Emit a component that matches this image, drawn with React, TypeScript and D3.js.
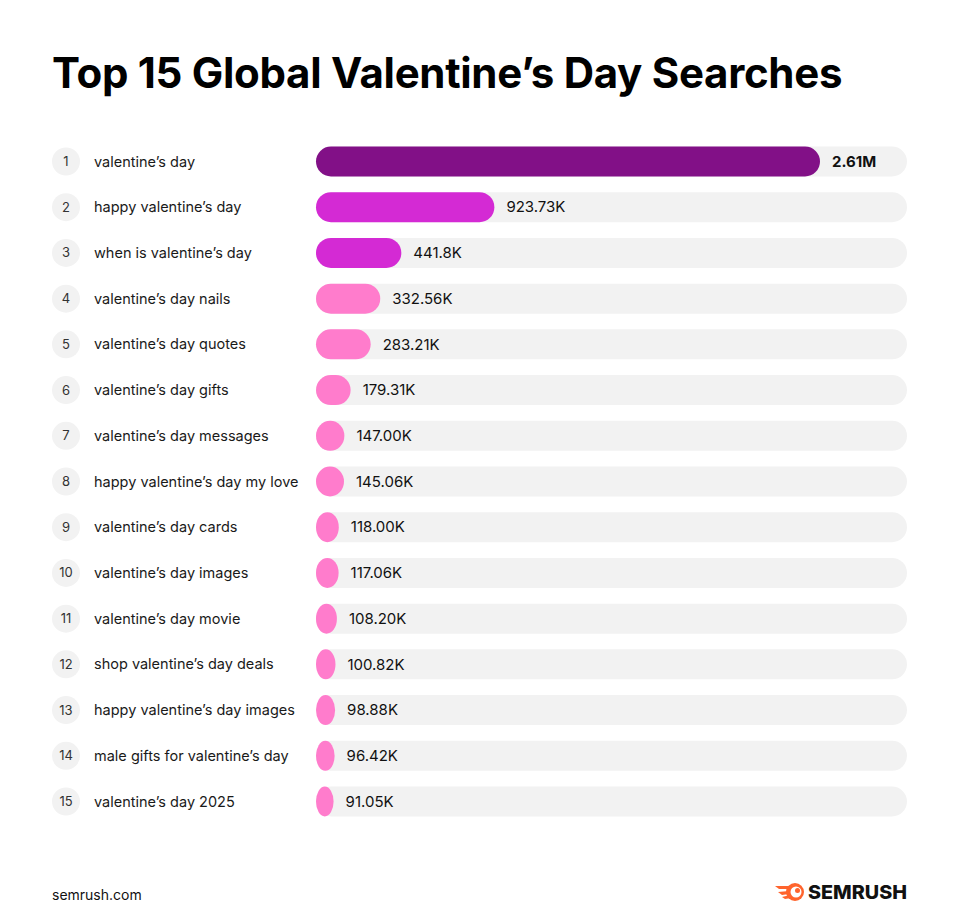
import React from "react";
import * as d3 from "d3";

const keywords = [
  "valentine’s day",
  "happy valentine’s day",
  "when is valentine’s day",
  "valentine’s day nails",
  "valentine’s day quotes",
  "valentine’s day gifts",
  "valentine’s day messages",
  "happy valentine’s day my love",
  "valentine’s day cards",
  "valentine’s day images",
  "valentine’s day movie",
  "shop valentine’s day deals",
  "happy valentine’s day images",
  "male gifts for valentine’s day",
  "valentine’s day 2025",
];
const volumes = [
  2610000, 923730, 441800, 332560, 283210, 179310, 147000, 145060, 118000,
  117060, 108200, 100820, 98880, 96420, 91050,
];
const volumeLabels = [
  "2.61M", "923.73K", "441.8K", "332.56K", "283.21K", "179.31K", "147.00K",
  "145.06K", "118.00K", "117.06K", "108.20K", "100.82K", "98.88K", "96.42K",
  "91.05K",
];

const W = 960;
const H = 921;
const font = "Inter, 'Noto Sans', sans-serif";

function barColor(i: number) {
  if (i === 0) return "#821087";
  if (i < 3) return "#d42ad4";
  return "#ff7ccc";
}

export default function App() {
  const ranks = keywords.map((_, i) => String(i + 1));
  const y = d3.scalePoint<string>().domain(ranks).range([161.5, 801.5]);
  const x = d3.scaleLinear().domain([0, 2610000]).range([316, 820]);
  const trackEnd = 907;
  const barH = 30;

  return (
    <svg
      width={W}
      height={H}
      style={{ position: "absolute", left: 0, top: 0, background: "#fff" }}
      fontFamily={font}
    >
      <text x={52} y={88} fontSize={42} fontWeight={700} fill="#000" letterSpacing={-0.3}>
        Top 15 Global Valentine’s Day Searches
      </text>

      {keywords.map((k, i) => {
        const cy = y(ranks[i]) as number;
        const w = x(volumes[i]) - x(0);
        return (
          <g key={k}>
            <circle cx={66} cy={cy} r={14} fill="#f2f2f2" />
            <text x={66} y={cy} dy="0.35em" fontSize={13} textAnchor="middle" fill="#333">
              {ranks[i]}
            </text>
            <text x={94} y={cy} dy="0.35em" fontSize={14.5} fill="#1a1a1a">
              {k}
            </text>
            <rect
              x={x(0)}
              y={cy - barH / 2}
              width={trackEnd - x(0)}
              height={barH}
              rx={15}
              ry={15}
              fill="#f2f2f2"
            />
            <rect
              x={x(0)}
              y={cy - barH / 2}
              width={w}
              height={barH}
              rx={15}
              ry={15}
              fill={barColor(i)}
            />
            <text
              x={x(volumes[i]) + 12}
              y={cy}
              dy="0.35em"
              fontSize={15}
              fontWeight={i === 0 ? 700 : 400}
              fill="#111"
            >
              {volumeLabels[i]}
            </text>
          </g>
        );
      })}

      <text x={52} y={900} fontSize={14} fill="#111">
        semrush.com
      </text>

      <g transform="translate(775,892)">
        <path d="M0,-6 L14,-6 L14,-3 L4,-3 Z" fill="#ff642d" />
        <path d="M3,0 L14,-1 L14,2 L7,3 Z" fill="#ff642d" />
        <path d="M7,5 L15,3 L16,6 L10,7 Z" fill="#ff642d" />
        <circle cx={20} cy={0} r={9} fill="#ff642d" />
        <circle cx={21} cy={0} r={5.5} fill="#fff" />
        <circle cx={22.5} cy={-1.5} r={2.5} fill="#ff642d" />
      </g>
      <text
        x={808}
        y={899}
        fontSize={19}
        fontWeight={800}
        fill="#111"
        textLength={99}
        lengthAdjust="spacingAndGlyphs"
      >
        SEMRUSH
      </text>
    </svg>
  );
}
